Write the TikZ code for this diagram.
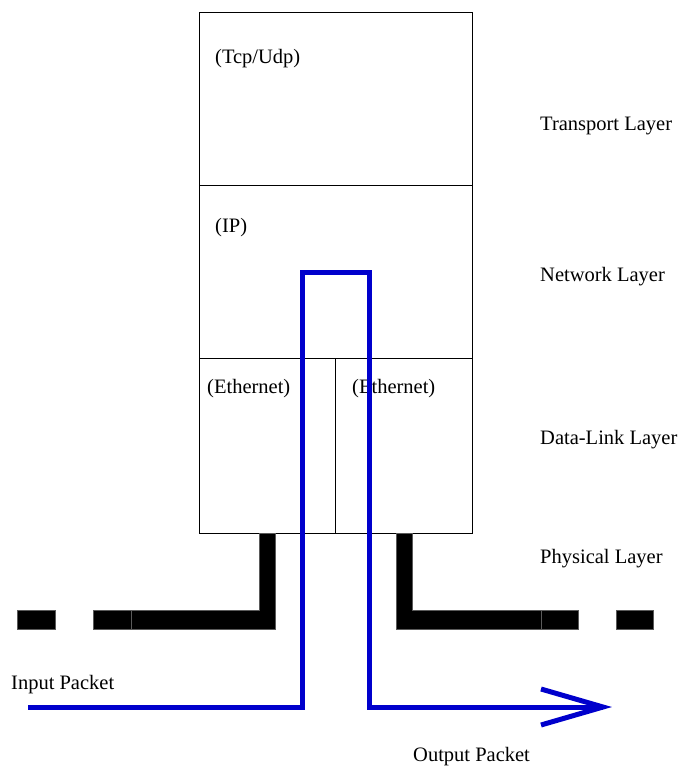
\documentclass[tikz,border=0pt]{standalone}
\usepackage{fontspec}
\setmainfont{Liberation Serif}
\definecolor{pktblue}{RGB}{0,0,204}
\definecolor{edgegray}{RGB}{90,90,90}
\begin{document}
\begin{tikzpicture}[x=1pt,y=-1pt,
  lbl/.style={anchor=base west,inner sep=0pt,font=\fontsize{20.5}{24}\selectfont},
  layerbox/.style={draw=black,line width=0.9pt},
  wire/.style={fill=black,draw=edgegray,line width=0.7pt},
  pkt/.style={draw=pktblue,line width=5pt,line join=miter}]
\useasboundingbox (0,0) rectangle (683,771);
% stack boxes
\draw[layerbox] (199,12) rectangle (472,185);
\draw[layerbox] (199,185) rectangle (472,358);
\draw[layerbox] (199,358) rectangle (472,533);
\draw[layerbox] (335,358) -- (335,533);
% texts in boxes
\node[lbl] (tcp) at (215,63) {(Tcp/Udp)};
\node[lbl] (ip) at (215,232) {(IP)};
\node[lbl] (eth1) at (207,393) {(Ethernet)};
\node[lbl] (eth2) at (352,393) {(Ethernet)};
% layer labels
\node[lbl] (tl) at (540,130) {Transport Layer};
\node[lbl] (nl) at (540,281) {Network Layer};
\node[lbl] (dl) at (540,444) {Data-Link Layer};
\node[lbl] (pl) at (540,563) {Physical Layer};
\node[lbl] (inp) at (11,689) {Input Packet};
\node[lbl] (outp) at (413,761) {Output Packet};
% physical wires
\draw[wire] (17,610) rectangle (55,629);
\draw[wire] (93,610) rectangle (131,629);
\draw[wire] (131,610) -- (259,610) -- (259,533) -- (275,533) -- (275,629) -- (131,629) -- cycle;
\draw[wire] (396,533) -- (412,533) -- (412,610) -- (541,610) -- (541,629) -- (396,629) -- cycle;
\draw[wire] (541,610) rectangle (578,629);
\draw[wire] (616,610) rectangle (653,629);
% packet path
\coordinate (pstart) at (28,707);
\coordinate (ptip) at (603,707);
\draw[pkt] (pstart) -- (302,707) -- (302,272) -- (369,272) -- (369,707) -- (ptip);
\draw[pkt,miter limit=10] (541,689) -- (ptip) -- (541,725);
\end{tikzpicture}
\end{document}
